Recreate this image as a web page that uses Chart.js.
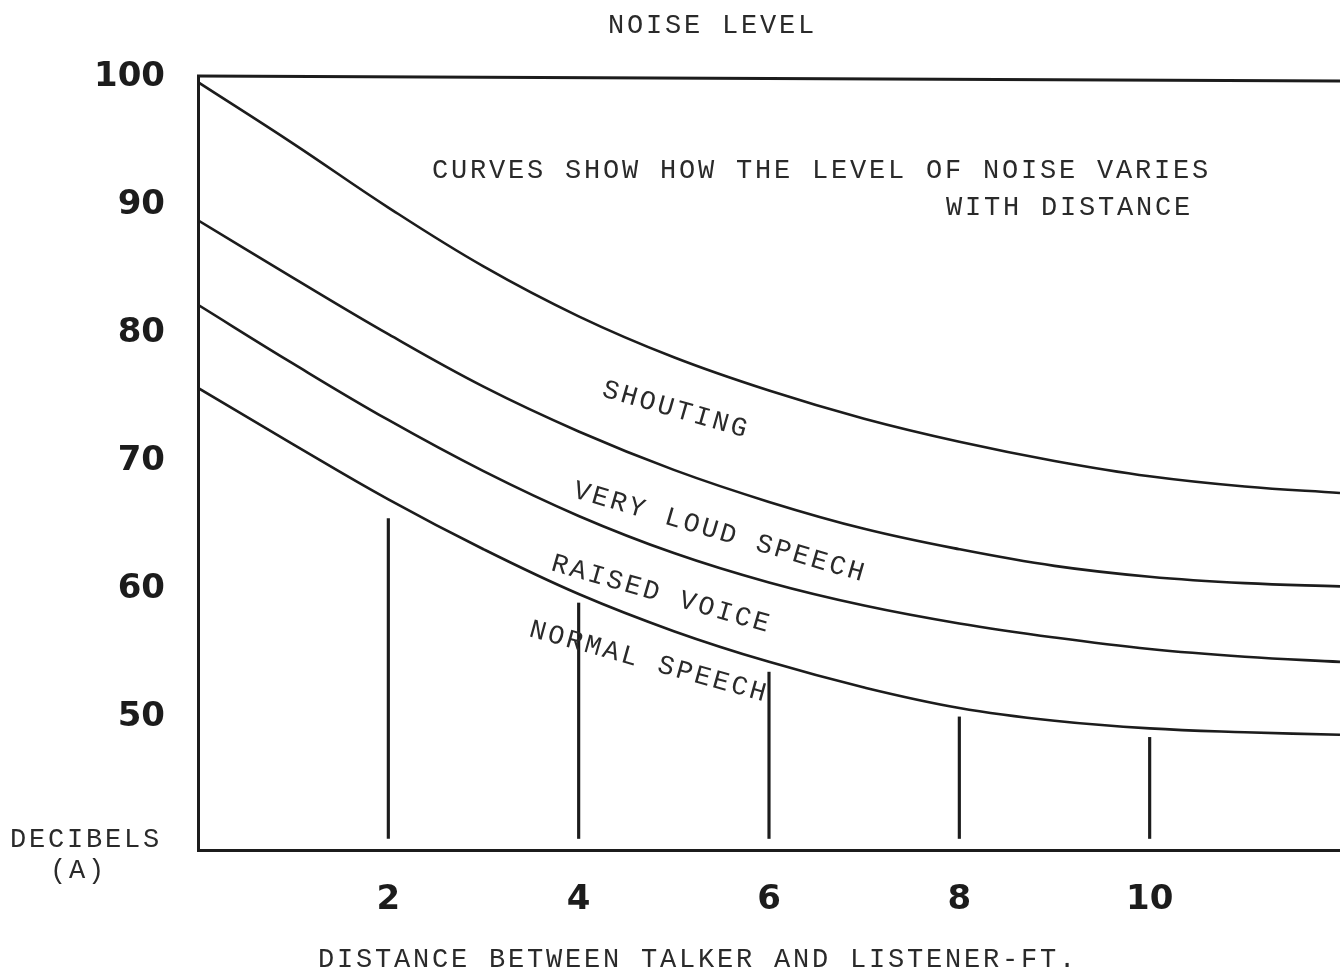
<!DOCTYPE html>
<html>
<head>
<meta charset="utf-8">
<script src="https://cdn.jsdelivr.net/npm/chart.js@4.4.1/dist/chart.umd.min.js"></script>
<style>
  html, body { margin: 0; padding: 0; background: #fff; }
  #wrap { width: 1340px; height: 971px; }
</style>
</head>
<body>
<div id="wrap"><canvas id="chartNoise"></canvas></div>
<script>
// distance between talker and listener (ft)
const distances = [0, 1, 2, 3, 4, 5, 6, 7, 8, 9, 10, 11, 12];
// noise level, dB(A)
const shouting    = [99.6, 94.8, 89.8, 85.2, 81.3, 78.1, 75.5, 73.3, 71.5, 70.0, 68.8, 68.0, 67.5];
const veryLoud    = [88.8, 84.3, 79.9, 75.8, 72.3, 69.3, 66.8, 64.7, 63.1, 61.8, 60.95, 60.45, 60.2];
const raisedVoice = [82.2, 77.6, 73.2, 69.2, 65.7, 62.8, 60.5, 58.7, 57.3, 56.2, 55.3, 54.7, 54.3];
const normalSpeech = [75.7, 71.3, 67.0, 63.1, 59.6, 56.7, 54.3, 52.3, 50.7, 49.7, 49.1, 48.8, 48.6];

// vertical marker lines
const markerX = [2, 4, 6, 8, 10];
const markerTop = [65.5, 58.9, 53.5, 50.0, 48.4];
const markerBase = 40.5;

const xTicks = [2, 4, 6, 8, 10];
const yTicks = [50, 60, 70, 80, 90, 100];

const ink = '#1c1c1c';
const typeFont = '"Liberation Mono", "DejaVu Sans Mono", monospace';
const numFont = { family: '"DejaVu Sans", sans-serif', size: 34, weight: 'bold' };

function serie(values) {
    return distances.map((d, i) => ({ x: d, y: values[i] }));
}

function lineSet(label, values) {
    return {
        type: 'line',
        label: label,
        data: serie(values),
        borderColor: ink,
        borderWidth: 2.6,
        pointRadius: 0,
        tension: 0.4,
        fill: false
    };
}

// texts drawn on top (typewriter style)
const textos = [
    { t: 'NOISE LEVEL', x: 608, y: 33, a: 0 },
    { t: 'CURVES SHOW HOW THE LEVEL OF NOISE VARIES', x: 432, y: 178, a: 0 },
    { t: 'WITH DISTANCE', x: 946, y: 215, a: 0 },
    { t: 'SHOUTING', x: 601, y: 396, a: 16 },
    { t: 'VERY LOUD SPEECH', x: 572, y: 497, a: 16.2 },
    { t: 'RAISED VOICE', x: 550, y: 570, a: 16 },
    { t: 'NORMAL SPEECH', x: 528, y: 636, a: 15.5 },
    { t: 'DECIBELS', x: 10, y: 847, a: 0 },
    { t: '(A)', x: 50, y: 878, a: 0 },
    { t: 'DISTANCE BETWEEN TALKER AND LISTENER-FT.', x: 318, y: 967, a: 0 }
];

const decoracao = {
    id: 'decoracao',
    afterDraw(chart) {
        const c = chart.ctx;
        const area = chart.chartArea;
        c.save();
        // top frame line
        c.strokeStyle = ink;
        c.lineWidth = 3;
        c.beginPath();
        c.moveTo(area.left - 1, area.top - 1);
        c.lineTo(area.right, area.top + 4);
        c.stroke();

        c.fillStyle = '#2a2a2a';
        c.font = '27px ' + typeFont;
        c.letterSpacing = '2.8px';
        c.textAlign = 'left';
        c.textBaseline = 'alphabetic';
        textos.forEach(function (item) {
            c.save();
            c.translate(item.x, item.y);
            c.rotate(item.a * Math.PI / 180);
            c.fillText(item.t, 0, 0);
            c.restore();
        });
        c.restore();
    }
};

const ctx = document.getElementById('chartNoise');

const dados = {
    datasets: [
        lineSet('Shouting', shouting),
        lineSet('Very loud speech', veryLoud),
        lineSet('Raised voice', raisedVoice),
        lineSet('Normal speech', normalSpeech),
        {
            type: 'bar',
            label: 'markers',
            data: markerX.map((x, i) => ({ x: x, y: [markerBase, markerTop[i]] })),
            backgroundColor: ink,
            barThickness: 2.5,
            borderWidth: 0
        }
    ]
};

new Chart(ctx, {
    type: 'line',
    data: dados,
    plugins: [decoracao],
    options: {
        responsive: true,
        maintainAspectRatio: false,
        animation: false,
        layout: { padding: { top: 77, left: 0, right: 0, bottom: 0 } },
        plugins: {
            legend: { display: false },
            title: { display: false },
            tooltip: { enabled: false }
        },
        scales: {
            x: {
                type: 'linear',
                min: 0,
                max: 12,
                offset: false,
                afterBuildTicks: function (s) { s.ticks = xTicks.map(v => ({ value: v })); },
                afterFit: function (s) { s.height = 121; },
                grid: { display: false, drawTicks: false, offset: false },
                border: { display: true, color: ink, width: 3 },
                ticks: {
                    color: ink,
                    font: numFont,
                    padding: 30,
                    maxRotation: 0,
                    autoSkip: false,
                    callback: v => String(v)
                }
            },
            y: {
                type: 'linear',
                min: 39.6,
                max: 100,
                afterBuildTicks: function (s) { s.ticks = yTicks.map(v => ({ value: v })); },
                afterFit: function (s) { s.width = 198; },
                grid: { display: false, drawTicks: false },
                border: { display: true, color: ink, width: 3 },
                ticks: {
                    color: ink,
                    font: numFont,
                    padding: 33,
                    autoSkip: false,
                    callback: v => String(v)
                }
            }
        }
    }
});
</script>
</body>
</html>
